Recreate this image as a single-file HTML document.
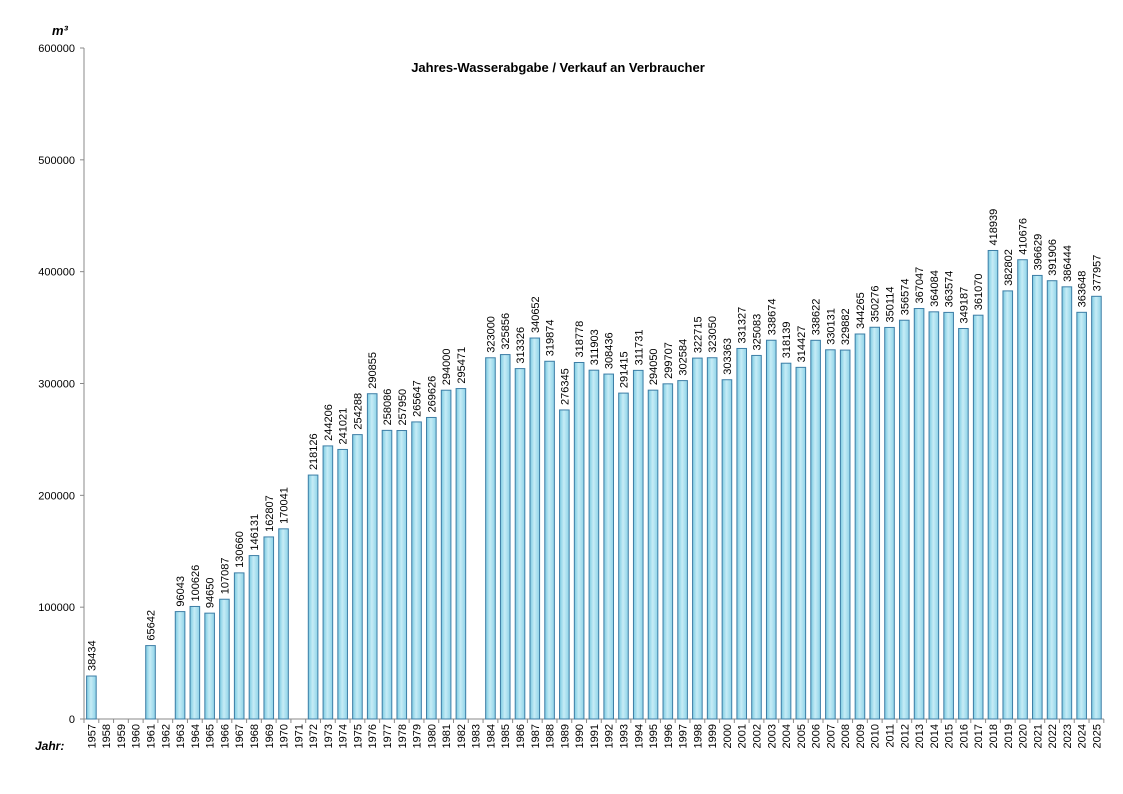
<!DOCTYPE html>
<html><head><meta charset="utf-8"><style>
html,body{margin:0;padding:0;background:#fff;}
svg{display:block;font-family:"Liberation Sans",Arial,sans-serif;}
</style></head><body>
<svg id="c" width="1123" height="794" xmlns="http://www.w3.org/2000/svg">
<defs>
<linearGradient id="g" x1="0" x2="1" y1="0" y2="0">
<stop offset="0" stop-color="#7ccbe2"/><stop offset="0.45" stop-color="#c6ecf6"/><stop offset="1" stop-color="#8ed3e8"/>
</linearGradient>
</defs>
<text x="52" y="35" font-size="13" font-weight="bold" font-style="italic">m³</text>
<text x="558" y="72" font-size="13" font-weight="bold" text-anchor="middle">Jahres-Wasserabgabe / Verkauf an Verbraucher</text>
<text x="35" y="750" font-size="12" font-weight="bold" font-style="italic">Jahr:</text>
<g id="g1"></g>
</svg>
<script>
var d={1957:38434,1961:65642,1963:96043,1964:100626,1965:94650,1966:107087,1967:130660,1968:146131,1969:162807,1970:170041,1972:218126,1973:244206,1974:241021,1975:254288,1976:290855,1977:258086,1978:257950,1979:265647,1980:269626,1981:294000,1982:295471,1984:323000,1985:325856,1986:313326,1987:340652,1988:319874,1989:276345,1990:318778,1991:311903,1992:308436,1993:291415,1994:311731,1995:294050,1996:299707,1997:302584,1998:322715,1999:323050,2000:303363,2001:331327,2002:325083,2003:338674,2004:318139,2005:314427,2006:338622,2007:330131,2008:329882,2009:344265,2010:350276,2011:350114,2012:356574,2013:367047,2014:364084,2015:363574,2016:349187,2017:361070,2018:418939,2019:382802,2020:410676,2021:396629,2022:391906,2023:386444,2024:363648,2025:377957};
var x0=84,y0=719,yt=48,cw=14.78,s="";
function Y(v){return y0-v*(y0-yt)/600000;}
s+='<line x1="'+x0+'" y1="'+yt+'" x2="'+x0+'" y2="'+y0+'" stroke="#888"/>';
s+='<line x1="'+x0+'" y1="'+y0+'" x2="'+(x0+69*cw)+'" y2="'+y0+'" stroke="#888"/>';
for(var i=0;i<=6;i++){var y=Y(i*100000);s+='<line x1="'+(x0-4)+'" y1="'+y+'" x2="'+x0+'" y2="'+y+'" stroke="#888"/><text x="75" y="'+(y+4)+'" font-size="11" text-anchor="end">'+(i*100000)+'</text>';}
for(var k=0;k<69;k++){var yr=1957+k,cx=x0+(k+0.5)*cw,xl=x0+k*cw;
s+='<line x1="'+xl+'" y1="'+y0+'" x2="'+xl+'" y2="'+(y0+4)+'" stroke="#888"/>';
s+='<text transform="translate('+(cx+4)+','+(y0+5)+') rotate(-90)" font-size="11" text-anchor="end">'+yr+'</text>';
var v=d[yr];if(v){var t=Y(v);
s+='<rect x="'+(cx-4.8)+'" y="'+t+'" width="9.6" height="'+(y0-t)+'" fill="url(#g)" stroke="#3d7ea6" stroke-width="1"/>';
s+='<text transform="translate('+(cx+4)+','+(t-5)+') rotate(-90)" font-size="11">'+v+'</text>';}}
s+='<line x1="'+(x0+69*cw)+'" y1="'+y0+'" x2="'+(x0+69*cw)+'" y2="'+(y0+4)+'" stroke="#888"/>';
document.getElementById('g1').innerHTML=s;
</script>
</body></html>
